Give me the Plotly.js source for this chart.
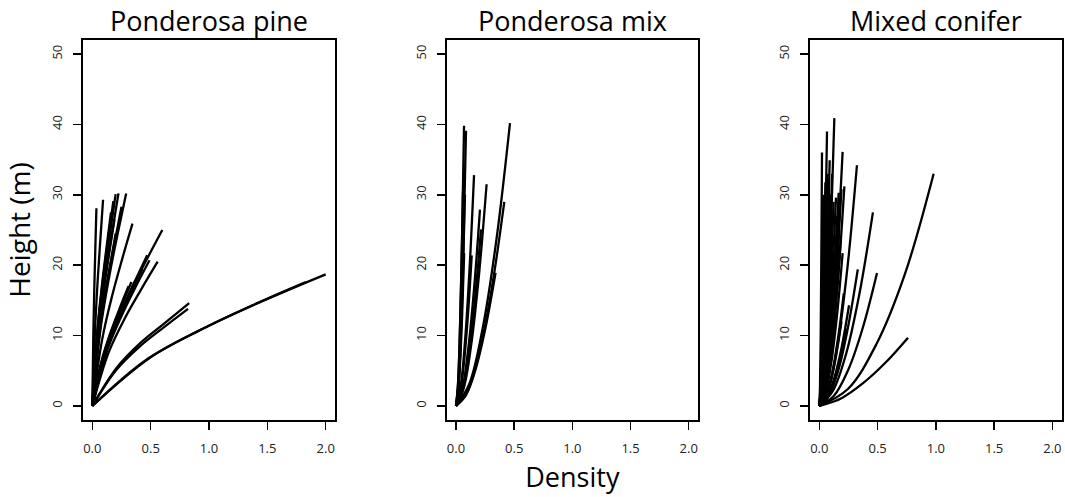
<!DOCTYPE html>
<html>
<head>
<meta charset="utf-8">
<script src="https://cdn.plot.ly/plotly-3.0.1.min.js"></script>
<style>html,body{margin:0;padding:0;background:#fff;}#chart{width:1065px;height:497px;}</style>
</head>
<body>
<div id="chart"></div>
<script>
// Panel titles
var panelTitles = ["Ponderosa pine", "Ponderosa mix", "Mixed conifer"];
// Tick labels
var xTickVals = [0, 0.5, 1, 1.5, 2];
var xTickText = ["0.0", "0.5", "1.0", "1.5", "2.0"];
var yTickVals = [0, 10, 20, 30, 40, 50];
var yTickText = ["0", "10", "20", "30", "40", "50"];

// Each curve: end density, then heights read at 1/4, 1/2, 3/4 of the end density, and at the end.
// Ponderosa pine
var pineXEnd = [0.035, 0.092, 0.18, 0.20, 0.224, 0.29, 0.25, 0.20, 0.19, 0.16, 0.344, 0.60, 0.56, 0.49, 0.47, 0.335, 0.37, 0.31, 0.43, 0.83, 0.82, 2.0, 1.83];
var pineYQ1  = [10.4, 10.8, 10.8, 11.1, 11.2, 11.2, 10.5, 9.1, 9.8, 10.2, 9.6, 9.3, 7.6, 7.7, 7.9, 6.5, 6.6, 6.3, 7.2, 5.4, 5.1, 6.9, 6.5];
var pineYMid = [17.1, 17.9, 17.8, 18.4, 18.4, 18.4, 17.3, 14.9, 16.2, 16.8, 15.8, 15.3, 12.5, 12.6, 13.1, 10.7, 10.9, 10.4, 11.9, 9.0, 8.5, 11.4, 10.7];
var pineYQ3  = [22.8, 23.7, 23.6, 24.4, 24.5, 24.5, 22.9, 19.8, 21.5, 22.3, 21.0, 20.3, 16.6, 16.8, 17.3, 14.3, 14.5, 13.8, 15.8, 11.8, 11.2, 15.2, 14.3];
var pineYEnd = [28.1, 29.3, 29.1, 30.1, 30.2, 30.2, 28.3, 24.5, 26.5, 27.5, 25.9, 25.0, 20.5, 20.7, 21.4, 17.6, 17.9, 17.0, 19.5, 14.6, 13.8, 18.7, 17.6];

// Ponderosa mix
var mixXEnd = [0.069, 0.086, 0.077, 0.07, 0.06, 0.155, 0.135, 0.206, 0.215, 0.263, 0.464, 0.415, 0.34];
var mixYQ1  = [3.2, 3.1, 2.4, 1.7, 2.4, 2.6, 1.7, 2.2, 2.0, 2.5, 3.2, 2.3, 1.5];
var mixYMid = [11.1, 10.9, 8.4, 6.1, 8.5, 9.2, 6.0, 7.8, 7.0, 8.8, 11.3, 8.1, 5.3];
var mixYQ3  = [23.5, 23.1, 17.7, 12.8, 18.0, 19.4, 12.6, 16.5, 14.8, 18.6, 23.7, 17.1, 11.2];
var mixYEnd = [39.8, 39.1, 30.0, 21.7, 30.5, 32.8, 21.4, 27.9, 25.1, 31.5, 40.2, 29.0, 18.9];

// Mixed conifer
var conXEnd = [0.023, 0.066, 0.089, 0.129, 0.052, 0.086, 0.123, 0.143, 0.166, 0.19, 0.20, 0.215, 0.20, 0.323, 0.46, 0.33, 0.255, 0.495, 0.981, 0.761,
               0.10, 0.17, 0.12, 0.15, 0.19, 0.08, 0.045, 0.11, 0.175, 0.13, 0.21, 0.23, 0.035, 0.06, 0.095, 0.155, 0.185, 0.07];
var conYQ1  = [2.7, 2.9, 2.6, 3.1, 2.4, 1.8, 2.2, 2.2, 2.3, 2.3, 2.7, 2.3, 1.6, 2.6, 2.1, 1.5, 1.1, 1.4, 2.4, 1.1,
               2.0, 1.9, 1.7, 1.4, 0.9, 2.1, 1.9, 2.5, 2.1, 1.5, 1.2, 0.8, 2.3, 2.0, 2.3, 2.0, 1.8, 2.5];
var conYMid = [9.7, 10.5, 9.4, 11.0, 8.6, 6.3, 7.8, 8.0, 8.2, 8.3, 9.7, 8.4, 5.9, 9.2, 7.4, 5.2, 3.9, 5.1, 8.8, 3.3,
               7.0, 6.8, 5.9, 4.9, 3.2, 7.6, 6.8, 8.9, 7.7, 5.4, 4.3, 3.0, 8.1, 7.3, 8.1, 7.3, 6.5, 8.9];
var conYQ3  = [20.9, 22.6, 20.2, 23.7, 18.4, 13.6, 16.8, 17.2, 17.6, 17.9, 20.9, 18.1, 12.6, 19.8, 16.0, 11.3, 8.3, 11.0, 18.8, 6.2,
               15.1, 14.5, 12.8, 10.4, 7.0, 16.2, 14.5, 19.1, 16.5, 11.6, 9.3, 6.4, 17.4, 15.7, 17.4, 15.7, 13.9, 19.1];
var conYEnd = [36.0, 39.0, 34.9, 40.9, 31.8, 23.5, 29.0, 29.6, 30.3, 30.8, 36.1, 31.2, 21.7, 34.2, 27.5, 19.4, 14.3, 18.9, 33.0, 9.7,
               26.0, 25.0, 22.0, 18.0, 12.0, 28.0, 25.0, 33.0, 28.5, 20.0, 16.0, 11.0, 30.0, 27.0, 30.0, 27.0, 24.0, 33.0];

var panels = [
  {xe: pineXEnd, q1: pineYQ1, m: pineYMid, q3: pineYQ3, ye: pineYEnd},
  {xe: mixXEnd, q1: mixYQ1, m: mixYMid, q3: mixYQ3, ye: mixYEnd},
  {xe: conXEnd, q1: conYQ1, m: conYMid, q3: conYQ3, ye: conYEnd}
];

var traces = [];
panels.forEach(function(p, i) {
  var sfx = i === 0 ? "" : String(i + 1);
  for (var k = 0; k < p.xe.length; k++) {
    var xe = p.xe[k];
    traces.push({
      type: "scatter", mode: "lines",
      x: [0, xe * 0.25, xe * 0.5, xe * 0.75, xe],
      y: [0, p.q1[k], p.m[k], p.q3[k], p.ye[k]],
      xaxis: "x" + sfx, yaxis: "y" + sfx,
      line: {color: "#000", width: 2.3, shape: "spline", smoothing: 1},
      hoverinfo: "skip", showlegend: false
    });
  }
});

var W = 1065, H = 497;
var boxes = [[83, 335], [446.7, 698], [810, 1061.7]];
var yDom = [1 - 420 / H, 1 - 40 / H];
var font = "Open Sans, Noto Sans, sans-serif";

var layout = {
  width: W, height: H,
  margin: {l: 0, r: 0, t: 0, b: 0},
  paper_bgcolor: "#fff", plot_bgcolor: "#fff",
  showlegend: false,
  font: {family: font, color: "#000"},
  annotations: []
};

boxes.forEach(function(b, i) {
  var sfx = i === 0 ? "" : String(i + 1);
  var xa = {
    domain: [b[0] / W, b[1] / W], anchor: "y" + sfx,
    range: [-0.08, 2.08], tickmode: "array", tickvals: xTickVals, ticktext: xTickText,
    showgrid: false, zeroline: false, showline: true, mirror: true,
    linecolor: "#000", linewidth: 2, ticks: "outside", ticklen: 8, tickwidth: 1.5, tickcolor: "#000",
    tickfont: {family: font, size: 13, color: "#222"}, ticklabelstandoff: 7
  };
  var ya = {
    domain: yDom, anchor: "x" + sfx,
    range: [-2, 52], tickmode: "array", tickvals: yTickVals, ticktext: yTickText,
    showgrid: false, zeroline: false, showline: true, mirror: true,
    linecolor: "#000", linewidth: 2, ticks: "outside", ticklen: 8, tickwidth: 1.5, tickcolor: "#000",
    tickangle: -90, tickfont: {family: font, size: 13, color: "#222"}, ticklabelstandoff: 6
  };
  if (i === 0) {
    ya.title = {text: "Height (m)", font: {family: font, size: 28, color: "#000"}, standoff: 13};
  }
  if (i === 1) {
    xa.title = {text: "Density", font: {family: font, size: 27, color: "#000"}, standoff: 13};
  }
  layout["xaxis" + sfx] = xa;
  layout["yaxis" + sfx] = ya;
  layout.annotations.push({
    text: panelTitles[i], xref: "paper", yref: "paper",
    x: (b[0] + b[1]) / 2 / W, y: 1 - 21 / H, xanchor: "center", yanchor: "middle",
    showarrow: false, font: {family: font, size: 27, color: "#000"}
  });
});

Plotly.newPlot("chart", traces, layout, {staticPlot: true, displayModeBar: false});
</script>
</body>
</html>
